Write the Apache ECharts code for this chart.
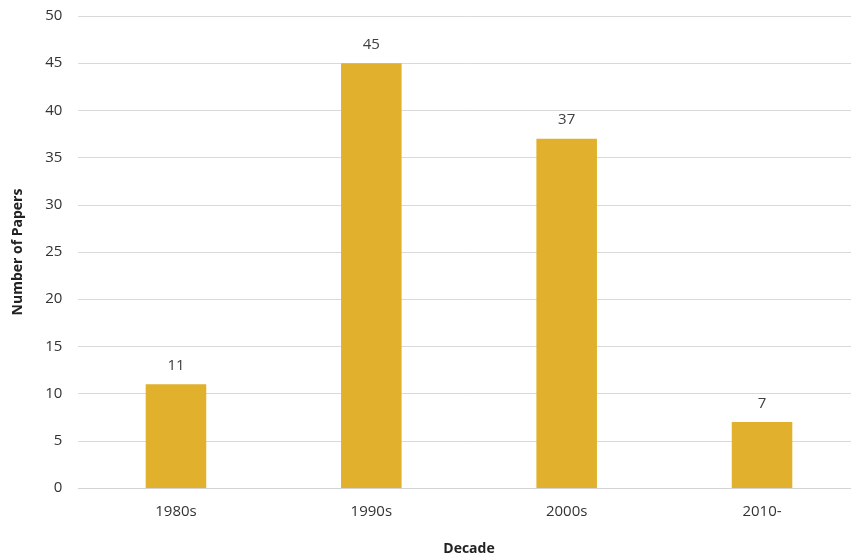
<!DOCTYPE html>
<html><head><meta charset="utf-8">
<script src="https://cdn.jsdelivr.net/npm/echarts@6/dist/echarts.min.js"></script>
<style>html,body{margin:0;padding:0;background:#fff}#c{width:851px;height:556px}</style>
</head><body><div id="c"></div>
<script>
const categories = ['1980s', '1990s', '2000s', '2010-'];
const papers = [11, 45, 37, 7];
const yTicks = [0, 50, 5];

const chart = echarts.init(document.getElementById('c'));
chart.setOption({
  animation: false,
  backgroundColor: '#ffffff',
  textStyle: { fontFamily: 'Open Sans' },
  grid: { left: 78.3, right: -8.7, top: 16, bottom: 68, containLabel: false, outerBoundsMode: 'none' },
  xAxis: {
    type: 'category', data: categories,
    name: 'Decade', nameLocation: 'middle', nameGap: 54,
    nameTextStyle: { fontWeight: 'bold', fontSize: 14, color: '#222' },
    axisLine: { show: true, lineStyle: { color: '#d4d4d4', width: 1 } },
    axisTick: { show: false },
    axisLabel: { color: '#333', fontSize: 15, margin: 16 }
  },
  yAxis: {
    type: 'value', min: yTicks[0], max: yTicks[1], interval: yTicks[2],
    name: 'Number of Papers', nameLocation: 'middle', nameGap: 53, nameRotate: 90,
    nameTextStyle: { fontWeight: 'bold', fontSize: 14, color: '#222' },
    axisLine: { show: false }, axisTick: { show: false },
    axisLabel: { color: '#333', fontSize: 15, margin: 16 },
    splitLine: { lineStyle: { color: '#d9d9d9', width: 1 } }
  },
  series: [{
    type: 'bar', data: papers, barWidth: '31%',
    itemStyle: { color: '#E1B02C' },
    label: { show: true, position: 'top', distance: 11, color: '#404040', fontSize: 15 }
  }]
});
</script></body></html>
